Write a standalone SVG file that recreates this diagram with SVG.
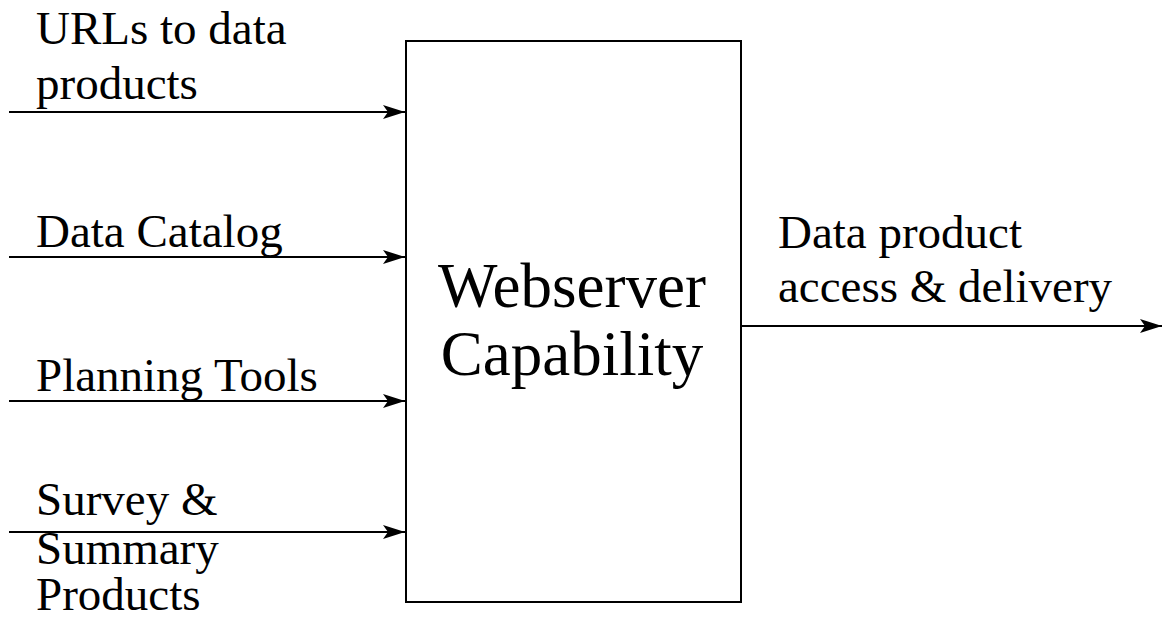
<svg xmlns="http://www.w3.org/2000/svg" width="1165" height="619" viewBox="0 0 1165 619">
<defs>
<style>
.t{font-family:"Liberation Serif","Times New Roman",serif;font-size:47px;fill:#000}
.big{font-family:"Liberation Serif","Times New Roman",serif;font-size:63px;fill:#000;text-anchor:middle}
.ln{stroke:#000;stroke-width:2;fill:none}
</style>
<marker id="ah" markerUnits="userSpaceOnUse" markerWidth="24" markerHeight="18" viewBox="0 0 24 18" refX="22" refY="9" orient="auto">
<path d="M0,2 L22,9 L0,16 L5,9 Z" fill="#000"/>
</marker>
</defs>
<rect width="1165" height="619" fill="#fff"/>
<g id="connectors">
<line class="ln" x1="9" y1="112" x2="405" y2="112" marker-end="url(#ah)"/>
<line class="ln" x1="9" y1="257" x2="405" y2="257" marker-end="url(#ah)"/>
<line class="ln" x1="9" y1="401" x2="405" y2="401" marker-end="url(#ah)"/>
<line class="ln" x1="9" y1="532" x2="405" y2="532" marker-end="url(#ah)"/>
<line class="ln" x1="741" y1="326" x2="1162" y2="326" marker-end="url(#ah)"/>
</g>
<g id="webserver">
<rect x="406" y="41" width="335" height="561" class="ln"/>
<text class="big" x="572" y="307">Webserver</text>
<text class="big" x="572" y="375">Capability</text>
</g>
<g id="label-urls">
<text class="t" x="36" y="44">URLs to data</text>
<text class="t" x="36" y="99">products</text>
</g>
<g id="label-catalog">
<text class="t" x="36" y="247">Data Catalog</text>
</g>
<g id="label-planning">
<text class="t" x="36" y="391">Planning Tools</text>
</g>
<g id="label-survey">
<text class="t" x="36" y="515">Survey &amp;</text>
<text class="t" x="36" y="564">Summary</text>
<text class="t" x="36" y="610">Products</text>
</g>
<g id="label-output">
<text class="t" x="778" y="248">Data product</text>
<text class="t" x="778" y="302">access &amp; delivery</text>
</g>
</svg>
